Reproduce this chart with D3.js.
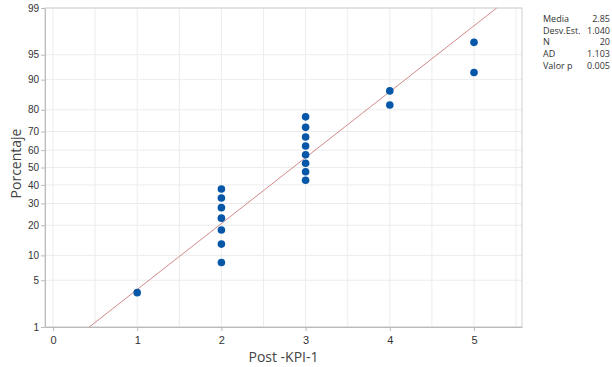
<!DOCTYPE html>
<html>
<head>
<meta charset="utf-8">
<script src="https://cdn.jsdelivr.net/npm/d3@7"></script>
<style>
  body { margin: 0; background: #fff; }
  svg { font-family: "Open Sans", "Noto Sans", sans-serif; }
  .axis text { fill: #333; font-size: 10px; }
  .axis path, .axis line { stroke: #bbb; }
</style>
</head>
<body>
<script>
// observations (Post -KPI-1) and their plotted percentages
var obs = [1, 2, 2, 2, 2, 2, 2, 2, 3, 3, 3, 3, 3, 3, 3, 3, 4, 4, 5, 5];
var pct = [3.4, 8.3, 13.2, 18.1, 23.0, 27.9, 32.8, 37.7, 42.6, 47.5,
           52.5, 57.4, 62.3, 67.2, 72.1, 77.0, 81.9, 86.8, 91.7, 96.6];

var xTicks = [0, 1, 2, 3, 4, 5];
var yTicks = [1, 5, 10, 20, 30, 40, 50, 60, 70, 80, 90, 95, 99];

var statNames = ["Media", "Desv.Est.", "N", "AD", "Valor p"];
var statValues = ["2.85", "1.040", "20", "1.103", "0.005"];
var mean = 2.85, sd = 1.040;

var margin = {top: 8, right: 90, bottom: 40, left: 45},
    width = 612 - margin.left - margin.right,
    height = 367 - margin.top - margin.bottom;

// inverse normal CDF (Acklam)
function qnorm(p) {
  var a = [-3.969683028665376e+01, 2.209460984245205e+02, -2.759285104469687e+02, 1.383577518672690e+02, -3.066479806614716e+01, 2.506628277459239e+00],
      b = [-5.447609879822406e+01, 1.615858368580409e+02, -1.556989798598866e+02, 6.680131188771972e+01, -1.328068155288572e+01],
      c = [-7.784894002430293e-03, -3.223964580411365e-01, -2.400758277161838e+00, -2.549732539343734e+00, 4.374664141464968e+00, 2.938163982698783e+00],
      d = [7.784695709041462e-03, 3.224671290700398e-01, 2.445134137142996e+00, 3.754408661907416e+00];
  var q, r, pl = 0.02425;
  if (p < pl) {
    q = Math.sqrt(-2 * Math.log(p));
    return (((((c[0]*q+c[1])*q+c[2])*q+c[3])*q+c[4])*q+c[5]) / ((((d[0]*q+d[1])*q+d[2])*q+d[3])*q+1);
  }
  if (p > 1 - pl) {
    q = Math.sqrt(-2 * Math.log(1 - p));
    return -(((((c[0]*q+c[1])*q+c[2])*q+c[3])*q+c[4])*q+c[5]) / ((((d[0]*q+d[1])*q+d[2])*q+d[3])*q+1);
  }
  q = p - 0.5; r = q * q;
  return (((((a[0]*r+a[1])*r+a[2])*r+a[3])*r+a[4])*r+a[5])*q / (((((b[0]*r+b[1])*r+b[2])*r+b[3])*r+b[4])*r+1);
}

var x = d3.scaleLinear().domain([-0.095, 5.57]).range([0, width]);
var yz = d3.scaleLinear().domain([qnorm(0.01), qnorm(0.99)]).range([height, 0]);
var y = function(p) { return yz(qnorm(p / 100)); };

var svg = d3.select("body").append("svg")
    .attr("width", 612)
    .attr("height", 367)
  .append("g")
    .attr("transform", "translate(" + margin.left + "," + margin.top + ")");

// grid
svg.append("g").selectAll("line")
    .data(d3.range(0, 5.51, 0.5))
  .enter().append("line")
    .attr("x1", d => x(d)).attr("x2", d => x(d))
    .attr("y1", 0).attr("y2", height)
    .style("stroke", "#ececec");

svg.append("g").selectAll("line")
    .data(yTicks)
  .enter().append("line")
    .attr("x1", 0).attr("x2", width)
    .attr("y1", d => y(d)).attr("y2", d => y(d))
    .style("stroke", "#ececec");

// frame
svg.append("rect")
    .attr("width", width).attr("height", height)
    .style("fill", "none").style("stroke", "#cfcfcf");

var xAxis = d3.axisBottom(x).tickValues(xTicks).tickSize(4).tickSizeOuter(0).tickFormat(d3.format("d"));
var yAxis = d3.axisLeft(yz).tickValues(yTicks.map(d => qnorm(d / 100))).tickSize(4).tickSizeOuter(0)
    .tickFormat((d, i) => yTicks[i]);

svg.append("g")
    .attr("class", "axis")
    .attr("transform", "translate(0," + height + ")")
    .call(xAxis)
    .selectAll("text").style("font-size", "11px").attr("dy", "0.95em");

svg.append("g")
    .attr("class", "axis")
    .call(yAxis)
    .selectAll("text").attr("x", -6);

// fitted line from 1% to 99%
svg.append("line")
    .attr("x1", x(mean + qnorm(0.01) * sd)).attr("y1", y(1))
    .attr("x2", x(mean + qnorm(0.99) * sd)).attr("y2", y(99))
    .style("stroke", "#d08a8a")
    .style("stroke-width", 1);

// points
svg.append("g").selectAll("circle")
    .data(obs)
  .enter().append("circle")
    .attr("cx", d => x(d))
    .attr("cy", (d, i) => y(pct[i]))
    .attr("r", 3.8)
    .style("fill", "#0657a8");

// axis titles
svg.append("text")
    .attr("x", width / 2)
    .attr("y", height + 35)
    .style("text-anchor", "middle")
    .style("font-size", "14px")
    .style("fill", "#444")
    .text("Post -KPI-1");

svg.append("text")
    .attr("transform", "rotate(-90)")
    .attr("x", -height / 2 + 4)
    .attr("y", -24)
    .style("text-anchor", "middle")
    .style("font-size", "14px")
    .style("fill", "#444")
    .text("Porcentaje");

// stats box
var stats = svg.append("g")
    .attr("transform", "translate(" + (width + 21) + ",14)")
    .style("font-size", "9px")
    .style("fill", "#333");

stats.selectAll(".sn")
    .data(statNames)
  .enter().append("text")
    .attr("y", (d, i) => i * 11.7)
    .text(d => d);

stats.selectAll(".sv")
    .data(statValues)
  .enter().append("text")
    .attr("x", 67)
    .attr("y", (d, i) => i * 11.7)
    .style("text-anchor", "end")
    .text(d => d);
</script>
</body>
</html>
